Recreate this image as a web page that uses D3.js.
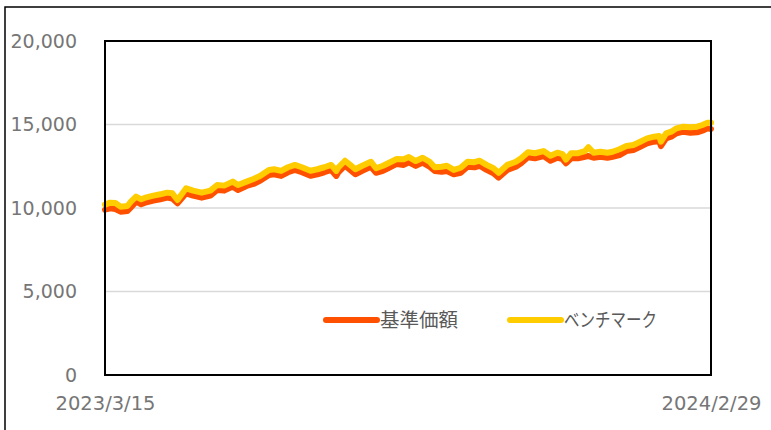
<!DOCTYPE html>
<html>
<head>
<meta charset="utf-8">
<script src="https://cdn.jsdelivr.net/npm/d3@7"></script>
<style>
  html, body { margin: 0; padding: 0; background: #fff; }
  svg { display: block; }
</style>
</head>
<body>
<svg id="chart" width="771" height="430"></svg>
<script>
// ---- data ----
const dates = [
  "2023-03-15","2023-03-18","2023-03-21","2023-03-24","2023-03-28","2023-03-30",
  "2023-04-02","2023-04-05","2023-04-08","2023-04-12","2023-04-16","2023-04-20","2023-04-23","2023-04-26",
  "2023-05-01","2023-05-05","2023-05-10","2023-05-15","2023-05-19","2023-05-23","2023-05-28","2023-05-31",
  "2023-06-05","2023-06-09","2023-06-13","2023-06-18","2023-06-21","2023-06-25","2023-06-29",
  "2023-07-03","2023-07-07","2023-07-12","2023-07-16","2023-07-20","2023-07-24","2023-07-27","2023-07-28",
  "2023-08-01","2023-08-04","2023-08-07","2023-08-11","2023-08-16","2023-08-19","2023-08-23","2023-08-26","2023-08-31",
  "2023-09-04","2023-09-07","2023-09-11","2023-09-15","2023-09-19","2023-09-22","2023-09-26","2023-09-29",
  "2023-10-03","2023-10-07","2023-10-11","2023-10-15","2023-10-18","2023-10-22","2023-10-26","2023-10-29",
  "2023-11-03","2023-11-08","2023-11-11","2023-11-15","2023-11-19","2023-11-24","2023-11-28",
  "2023-12-02","2023-12-05","2023-12-07","2023-12-10","2023-12-14","2023-12-18","2023-12-20","2023-12-23","2023-12-27","2023-12-31",
  "2024-01-03","2024-01-07","2024-01-11","2024-01-15","2024-01-19","2024-01-23","2024-01-27","2024-01-30","2024-01-31",
  "2024-02-03","2024-02-06","2024-02-09","2024-02-13","2024-02-17","2024-02-21","2024-02-24","2024-02-27","2024-02-29"
];
const fund = [
  9900,9980,9940,9780,9820,10040,
  10380,10220,10340,10440,10520,10620,10560,10280,
  10880,10740,10620,10740,11080,11040,11280,11080,
  11320,11440,11640,11980,12020,11920,12140,
  12280,12140,11930,12020,12140,12280,11920,12110,
  12530,12280,12020,12230,12470,12110,12230,12380,12640,
  12580,12740,12520,12720,12470,12220,12170,12220,
  12020,12110,12470,12440,12530,12280,12080,11820,
  12280,12470,12680,13040,12980,13110,12830,
  13010,12920,12680,12980,12980,13070,13110,13010,13070,13010,
  13070,13170,13410,13470,13670,13870,13970,14010,13710,
  14170,14270,14470,14570,14510,14530,14630,14770,14730
];
const bench = [
  10200,10320,10300,10080,10120,10380,
  10680,10520,10640,10740,10820,10920,10880,10480,
  11180,11040,10920,11040,11380,11340,11580,11380,
  11580,11740,11930,12280,12320,12220,12440,
  12580,12440,12230,12320,12440,12580,12220,12410,
  12830,12580,12320,12530,12770,12380,12530,12680,12930,
  12920,13050,12810,13010,12770,12440,12470,12530,
  12280,12410,12770,12740,12830,12580,12380,12110,
  12580,12770,12980,13340,13280,13410,13130,
  13310,13220,12900,13280,13280,13410,13640,13310,13370,13310,
  13370,13520,13710,13770,13970,14170,14270,14310,13970,
  14470,14570,14770,14870,14830,14870,14970,15110,15110
];
const seriesNames = ["基準価額", "ベンチマーク"];
const seriesColors = ["#FF5000", "#FFCC00"];
const yTicks = [0, 5000, 10000, 15000, 20000];
const xTickDates = ["2023-03-15", "2024-02-29"];
const xTickLabels = ["2023/3/15", "2024/2/29"];

// ---- drawing ----
const parse = d3.timeParse("%Y-%m-%d");
const svg = d3.select("#chart");
const L = 105, R = 711, T = 41, B = 375;
const font = "'DejaVu Sans', Verdana, sans-serif";

const x = d3.scaleTime().domain([parse(xTickDates[0]), parse(xTickDates[1])]).range([L, R]);
const y = d3.scaleLinear().domain([0, 20000]).range([B, T]);

// outer frame
svg.append("rect").attr("x", 5).attr("y", 7).attr("width", 800).attr("height", 500)
  .attr("fill", "none").attr("stroke", "#000").attr("stroke-width", 1.5);

// gridlines
svg.append("g").selectAll("line").data(yTicks.filter(t => t > 0 && t < 20000)).join("line")
  .attr("x1", L).attr("x2", R).attr("y1", d => y(d)).attr("y2", d => y(d))
  .attr("stroke", "#d9d9d9").attr("stroke-width", 1.5);

// y axis
const yAxis = svg.append("g").attr("transform", `translate(${L},0)`)
  .call(d3.axisLeft(y).tickValues(yTicks).tickFormat(d3.format(",")).tickSize(0).tickPadding(28));
yAxis.select(".domain").remove();
yAxis.selectAll("text").attr("font-family", font).attr("font-size", 19).attr("fill", "#767676");

// x axis
const xAxis = svg.append("g").attr("transform", `translate(0,${B})`)
  .call(d3.axisBottom(x).tickValues(xTickDates.map(parse))
    .tickFormat((d, i) => xTickLabels[i]).tickSize(0).tickPadding(21));
xAxis.select(".domain").remove();
xAxis.selectAll("text").attr("font-family", font).attr("font-size", 19.5).attr("fill", "#767676");

// lines
const seriesData = [fund, bench];
const line = d3.line().x((d, i) => x(parse(dates[i]))).y(d => y(d));
svg.append("g").selectAll("path").data(seriesData).join("path")
  .attr("d", d => line(d))
  .attr("fill", "none")
  .attr("stroke", (d, i) => seriesColors[i])
  .attr("stroke-width", 6)
  .attr("stroke-linejoin", "round")
  .attr("stroke-linecap", "round");

// plot frame
svg.append("rect").attr("x", L).attr("y", T).attr("width", R - L).attr("height", B - T)
  .attr("fill", "none").attr("stroke", "#000").attr("stroke-width", 2);

// legend
const legX = [326, 510];
const legTextLen = [78, 93];
const leg = svg.append("g").selectAll("g").data(seriesNames).join("g")
  .attr("transform", (d, i) => `translate(${legX[i]},320)`);
leg.append("line").attr("x1", 0).attr("x2", 51).attr("y1", 0).attr("y2", 0)
  .attr("stroke", (d, i) => seriesColors[i]).attr("stroke-width", 6).attr("stroke-linecap", "round");
leg.append("text").attr("x", 54).attr("y", 0).attr("dy", "0.36em")
  .attr("font-family", "'Noto Sans CJK JP', sans-serif").attr("font-size", 19)
  .attr("textLength", (d, i) => legTextLen[i]).attr("lengthAdjust", "spacingAndGlyphs")
  .attr("fill", "#595959").text(d => d);
</script>
</body>
</html>
